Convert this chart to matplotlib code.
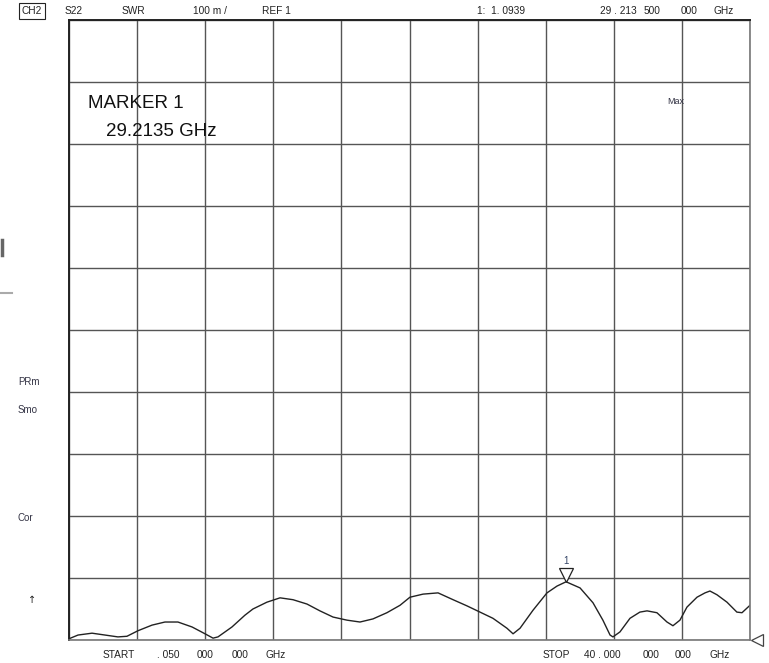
import matplotlib
matplotlib.use('Agg')
import matplotlib.pyplot as plt
import matplotlib.transforms as mtransforms

plt.rcParams['font.family'] = ['Liberation Sans', 'DejaVu Sans']

# частота, ГГц и КСВ (S22)
freq = [0.05, 0.58, 1.40, 2.16, 2.92, 3.45, 4.10, 4.92, 5.68, 6.44,
        7.27, 8.03, 8.50, 8.79, 9.61, 10.37, 10.84, 11.66, 12.43, 13.19,
        14.01, 14.77, 15.54, 16.36, 17.12, 17.88, 18.70, 19.47, 20.05, 20.82,
        21.70, 22.58, 23.40, 24.16, 24.92, 25.74, 26.10, 26.51, 27.27, 28.09,
        28.68, 29.21, 30.03, 30.79, 31.37, 31.79, 31.96, 32.37, 32.96, 33.54,
        33.96, 34.54, 35.13, 35.48, 35.89, 36.30, 36.89, 37.36, 37.65, 38.06,
        38.65, 39.23, 39.53, 40.00]
swr = [1.002, 1.008, 1.011, 1.008, 1.005, 1.006, 1.015, 1.024, 1.029, 1.029,
       1.021, 1.010, 1.003, 1.005, 1.021, 1.040, 1.050, 1.061, 1.068, 1.065,
       1.058, 1.047, 1.037, 1.032, 1.029, 1.034, 1.044, 1.056, 1.069, 1.074,
       1.076, 1.065, 1.055, 1.045, 1.035, 1.019, 1.010, 1.019, 1.048, 1.076,
       1.087, 1.0939, 1.084, 1.060, 1.032, 1.008, 1.005, 1.013, 1.035, 1.045,
       1.047, 1.044, 1.029, 1.023, 1.032, 1.053, 1.069, 1.076, 1.079, 1.073,
       1.061, 1.045, 1.044, 1.056]

marker_f = 29.2135
marker_v = 1.0939
start_f = 0.05
stop_f = 40.0
ref = 1.0
per_div = 0.1

W, H = 769, 663
fig = plt.figure(figsize=(W / 100, H / 100), dpi=100)
ax = fig.add_axes([69 / W, 1 - 640 / H, (750 - 69) / W, (640 - 20) / H])

ax.plot(freq, swr, color='#222222', lw=1.0)
ax.set_xlim(start_f, stop_f)
ax.set_ylim(ref, ref + 10 * per_div)

# сетка 10 x 10
step = (stop_f - start_f) / 10
ax.set_xticks([start_f + i * step for i in range(11)])
ax.set_yticks([ref + i * per_div for i in range(11)])
ax.grid(True, color='#555555', lw=1.0)
ax.tick_params(length=0, labelbottom=False, labelleft=False)
for side in ['left', 'top']:
    ax.spines[side].set_color('#222222')
    ax.spines[side].set_linewidth(1.4)
for side in ['right', 'bottom']:
    ax.spines[side].set_color('#777777')
    ax.spines[side].set_linewidth(1.2)

# маркер 1
tr = mtransforms.offset_copy(ax.transData, fig=fig, x=0, y=7, units='dots')
ax.plot([marker_f], [marker_v], marker='v', ms=10, mfc='white', mec='#222222',
        mew=0.9, transform=tr, clip_on=False)
tr2 = mtransforms.offset_copy(ax.transData, fig=fig, x=0, y=21, units='dots')
ax.text(marker_f, marker_v, '1', transform=tr2, ha='center', va='center',
        fontsize=7, color='#334466')

# опорный уровень справа
tr3 = mtransforms.offset_copy(ax.transData, fig=fig, x=7, y=0, units='dots')
ax.plot([stop_f], [ref], marker='<', ms=8, mfc='white', mec='#444444',
        mew=0.9, transform=tr3, clip_on=False)


def ftext(x, y, s, **kw):
    fig.text(x / W, 1 - y / H, s, va='center', ha='left', **kw)


hdr = dict(fontsize=7.3, color='#222222')
ftext(22, 11, 'CH2', bbox=dict(boxstyle='square,pad=0.25', fc='white', ec='#222222', lw=0.8), **hdr)
ftext(65, 11, 'S22', **hdr)
ftext(122, 11, 'SWR', **hdr)
ftext(193, 11, '100 m /', **hdr)
ftext(262, 11, 'REF 1', **hdr)
ftext(477, 11, '1:  1. 0939', **hdr)
ftext(600, 11, '29 . 213', **hdr)
ftext(644, 11, '500', **hdr)
ftext(681, 11, '000', **hdr)
ftext(713, 11, 'GHz', **hdr)

ftext(103, 655, 'START', **hdr)
ftext(157, 655, '. 050', **hdr)
ftext(197, 655, '000', **hdr)
ftext(232, 655, '000', **hdr)
ftext(265, 655, 'GHz', **hdr)
ftext(543, 655, 'STOP', **hdr)
ftext(584, 655, '40 . 000', **hdr)
ftext(643, 655, '000', **hdr)
ftext(675, 655, '000', **hdr)
ftext(709, 655, 'GHz', **hdr)

side = dict(fontsize=7, color='#333344')
ftext(18, 382, 'PRm', **side)
ftext(18, 410, 'Smo', **side)
ftext(18, 518, 'Cor', **side)
ftext(28, 600, '↑', fontsize=7, color='#222222', family=['DejaVu Sans'])
ftext(667, 102, 'Max', fontsize=6.5, color='#333344')

ftext(88, 104, 'MARKER 1', fontsize=13.5, color='#111111')
ftext(106, 131, '29.2135 GHz', fontsize=13.5, color='#111111')

# обрезки соседнего текста слева
fig.add_artist(plt.Line2D([1.5 / W, 1.5 / W], [1 - 240 / H, 1 - 255 / H],
                          color='#666666', lw=2.5, transform=fig.transFigure))
fig.add_artist(plt.Line2D([0, 12 / W], [1 - 293 / H, 1 - 293 / H],
                          color='#aaaaaa', lw=1.5, transform=fig.transFigure))

fig.savefig('out.png', dpi=100)
